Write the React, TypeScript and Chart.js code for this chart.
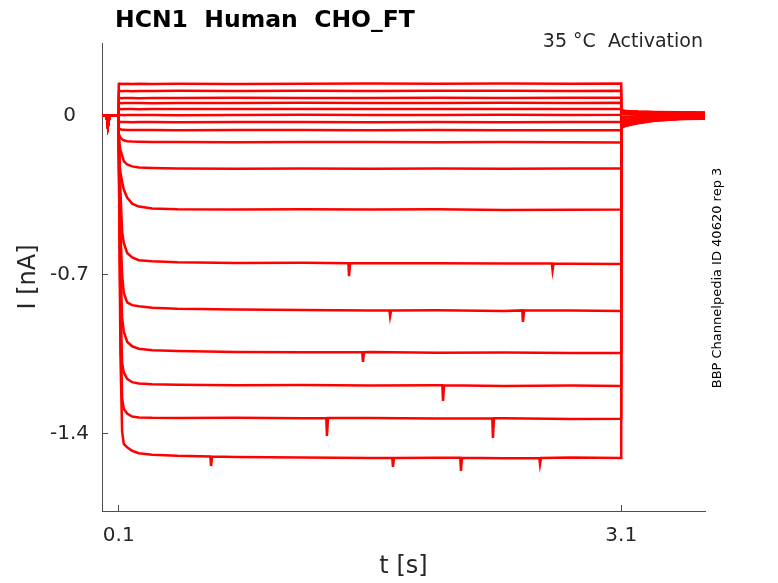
import { useEffect, useRef } from 'react';
import Chart from 'chart.js/auto';

const FONT = '"DejaVu Sans", sans-serif';
const TEXT = '#262626';
const AXIS = '#4d4d4d';

const chartTitle = 'HCN1  Human  CHO_FT';
const condition = '35 °C  Activation';
const sourceNote = 'BBP Channelpedia ID 40620 rep 3';

// holding period before the step (s, nA), same for every sweep
const preTimes = [0, 0.028, 0.035, 0.045, 0.1];
const preCurrent = [0, 0, -0.045, 0, 0];

// during the voltage step
const stepTimes = [0.1, 0.105, 0.11, 0.12, 0.13, 0.15, 0.18, 0.22, 0.3, 0.45, 0.8, 1.2, 1.6, 2.0, 2.4, 2.8, 3.1];
const stepCurrents = [
  [0.14, 0.141, 0.14, 0.141, 0.14, 0.141, 0.14, 0.141, 0.14, 0.141, 0.14, 0.141, 0.142, 0.141, 0.142, 0.141, 0.142],
  [0.108, 0.109, 0.109, 0.108, 0.109, 0.109, 0.108, 0.109, 0.109, 0.11, 0.109, 0.11, 0.109, 0.11, 0.11, 0.109, 0.11],
  [0.077, 0.078, 0.078, 0.077, 0.078, 0.078, 0.078, 0.077, 0.078, 0.078, 0.079, 0.078, 0.078, 0.079, 0.078, 0.079, 0.079],
  [0.055, 0.056, 0.056, 0.055, 0.056, 0.056, 0.056, 0.056, 0.055, 0.056, 0.056, 0.057, 0.056, 0.056, 0.057, 0.056, 0.057],
  [0.028, 0.029, 0.029, 0.028, 0.029, 0.029, 0.029, 0.028, 0.029, 0.029, 0.03, 0.029, 0.029, 0.03, 0.029, 0.03, 0.03],
  [0.002, 0.003, 0.003, 0.003, 0.002, 0.003, 0.003, 0.003, 0.003, 0.002, 0.003, 0.004, 0.003, 0.003, 0.004, 0.003, 0.004],
  [-0.026, -0.027, -0.028, -0.028, -0.028, -0.028, -0.029, -0.028, -0.028, -0.029, -0.028, -0.028, -0.029, -0.028, -0.029, -0.028, -0.028],
  [-0.055, -0.058, -0.06, -0.062, -0.062, -0.063, -0.063, -0.063, -0.063, -0.064, -0.063, -0.063, -0.064, -0.063, -0.064, -0.064, -0.064],
  [-0.08, -0.09, -0.097, -0.104, -0.108, -0.112, -0.114, -0.115, -0.116, -0.116, -0.117, -0.116, -0.116, -0.117, -0.116, -0.117, -0.118],
  [-0.08, -0.13, -0.15, -0.175, -0.2, -0.215, -0.223, -0.228, -0.23, -0.232, -0.233, -0.232, -0.233, -0.232, -0.233, -0.232, -0.232],
  [-0.1, -0.22, -0.25, -0.29, -0.325, -0.36, -0.387, -0.4, -0.408, -0.412, -0.413, -0.412, -0.413, -0.412, -0.415, -0.414, -0.413],
  [-0.08, -0.2, -0.33, -0.51, -0.56, -0.604, -0.624, -0.636, -0.641, -0.645, -0.648, -0.647, -0.65, -0.649, -0.651, -0.652, -0.653],
  [-0.1, -0.3, -0.5, -0.7, -0.78, -0.822, -0.834, -0.839, -0.845, -0.85, -0.853, -0.855, -0.858, -0.856, -0.86, -0.858, -0.86],
  [-0.1, -0.4, -0.65, -0.89, -0.95, -0.995, -1.015, -1.026, -1.032, -1.036, -1.04, -1.041, -1.04, -1.043, -1.042, -1.044, -1.045],
  [-0.12, -0.45, -0.8, -1.09, -1.13, -1.158, -1.173, -1.179, -1.182, -1.184, -1.186, -1.185, -1.188, -1.187, -1.19, -1.188, -1.19],
  [-0.12, -0.5, -0.9, -1.245, -1.29, -1.311, -1.324, -1.328, -1.33, -1.331, -1.33, -1.332, -1.331, -1.333, -1.332, -1.335, -1.334],
  [-0.15, -0.6, -1.05, -1.39, -1.445, -1.46, -1.475, -1.486, -1.492, -1.497, -1.502, -1.505, -1.507, -1.506, -1.508, -1.505, -1.507],
];

// back at the holding potential
const tailTimes = [3.1, 3.12, 3.15, 3.2, 3.3, 3.45, 3.6];
const tailCurrents = [
  [0.024, 0.022, 0.02, 0.018, 0.016, 0.015, 0.014],
  [0.023, 0.021, 0.019, 0.017, 0.015, 0.014, 0.013],
  [0.021, 0.02, 0.018, 0.016, 0.014, 0.013, 0.012],
  [0.018, 0.017, 0.016, 0.014, 0.012, 0.011, 0.01],
  [0.012, 0.011, 0.01, 0.009, 0.008, 0.008, 0.007],
  [0.01, 0.009, 0.008, 0.008, 0.007, 0.006, 0.006],
  [-0.005, -0.004, -0.003, -0.002, 0, 0.001, 0.002],
  [-0.01, -0.009, -0.007, -0.004, -0.002, 0, 0.001],
  [-0.022, -0.02, -0.017, -0.012, -0.007, -0.004, -0.003],
  [-0.025, -0.023, -0.019, -0.014, -0.008, -0.005, -0.004],
  [-0.035, -0.031, -0.026, -0.02, -0.012, -0.008, -0.006],
  [-0.038, -0.034, -0.028, -0.022, -0.014, -0.009, -0.007],
  [-0.04, -0.036, -0.03, -0.023, -0.015, -0.01, -0.008],
  [-0.046, -0.041, -0.035, -0.027, -0.018, -0.012, -0.01],
  [-0.048, -0.043, -0.037, -0.029, -0.019, -0.013, -0.011],
  [-0.05, -0.045, -0.039, -0.031, -0.021, -0.014, -0.012],
  [-0.053, -0.047, -0.041, -0.033, -0.022, -0.015, -0.013],
];

// short glitches visible on the lower sweeps (s, nA)
const glitches = [
  [], [], [], [], [], [], [], [], [], [], [],
  [[1.471, -0.649], [1.475, -0.706], [1.481, -0.65], [2.686, -0.651], [2.69, -0.68], [2.696, -0.651]],
  [[1.716, -0.857], [1.72, -0.882], [1.726, -0.857], [2.509, -0.857], [2.513, -0.908], [2.52, -0.857]],
  [[1.554, -1.041], [1.558, -1.084], [1.564, -1.041]],
  [[2.032, -1.187], [2.036, -1.256], [2.042, -1.187]],
  [[1.339, -1.331], [1.343, -1.41], [1.349, -1.331], [2.33, -1.332], [2.334, -1.418], [2.34, -1.332]],
  [[0.647, -1.5], [0.651, -1.542], [0.657, -1.5], [1.733, -1.507], [1.737, -1.546], [1.743, -1.507],
   [2.139, -1.506], [2.143, -1.564], [2.149, -1.506], [2.611, -1.507], [2.615, -1.533], [2.621, -1.507]],
];

const xTicks = [0.1, 3.1];
const xTickLabels = ['0.1', '3.1'];
const yTicks = [0, -0.7, -1.4];
const yTickLabels = ['0', '-0.7', '-1.4'];

function sweepData(i: number) {
  const pts = [
    ...preTimes.map((t, k) => ({ x: t, y: preCurrent[k] })),
    ...stepTimes.map((t, k) => ({ x: t, y: stepCurrents[i][k] })),
    ...tailTimes.map((t, k) => ({ x: t, y: tailCurrents[i][k] })),
    ...glitches[i].map(([t, v]) => ({ x: t, y: v })),
  ];
  return pts.sort((a, b) => a.x - b.x);
}

const textPlugin = {
  id: 'figureText',
  afterDraw(chart: Chart) {
    const { ctx } = chart;
    ctx.save();
    ctx.fillStyle = '#000';
    ctx.font = `bold 23.5px ${FONT}`;
    ctx.textAlign = 'left';
    ctx.textBaseline = 'alphabetic';
    ctx.fillText(chartTitle, 115, 27);

    ctx.fillStyle = TEXT;
    ctx.font = `19px ${FONT}`;
    ctx.textAlign = 'right';
    ctx.fillText(condition, 703, 47);

    ctx.translate(721, 278);
    ctx.rotate(-Math.PI / 2);
    ctx.textAlign = 'center';
    ctx.font = `13px ${FONT}`;
    ctx.fillStyle = '#000';
    ctx.fillText(sourceNote, 0, 0);
    ctx.restore();
  },
};

export default function App() {
  const chartRef = useRef<HTMLCanvasElement>(null);
  const chartInstance = useRef<Chart | null>(null);

  useEffect(() => {
    if (!chartRef.current) return;
    if (chartInstance.current) chartInstance.current.destroy();

    chartInstance.current = new Chart(chartRef.current, {
      type: 'line',
      data: {
        datasets: stepCurrents.map((_, i) => ({
          data: sweepData(i),
          borderColor: '#ff0000',
          borderWidth: 2.5,
          pointRadius: 0,
          tension: 0,
        })),
      },
      options: {
        responsive: true,
        maintainAspectRatio: false,
        animation: false,
        events: [],
        layout: { padding: { left: 0, right: 73, top: 43, bottom: 0 } },
        plugins: {
          legend: { display: false },
          tooltip: { enabled: false },
        },
        scales: {
          x: {
            type: 'linear',
            min: 0,
            max: 3.6,
            afterBuildTicks: (s: any) => {
              s.ticks = xTicks.map((v) => ({ value: v }));
            },
            afterFit: (s: any) => {
              s.height = 72;
            },
            ticks: {
              autoSkip: false,
              maxRotation: 0,
              padding: 19,
              color: TEXT,
              font: { family: FONT, size: 20 },
              callback: (v: any) => xTickLabels[xTicks.indexOf(v)] ?? '',
            },
            grid: { drawOnChartArea: false, tickLength: -6, color: AXIS },
            border: { display: true, color: AXIS, width: 1 },
            title: {
              display: true,
              text: 't [s]',
              color: TEXT,
              font: { family: FONT, size: 24 },
              padding: { top: 0, bottom: 2 },
            },
          },
          y: {
            type: 'linear',
            min: -1.74,
            max: 0.32,
            afterBuildTicks: (s: any) => {
              s.ticks = yTicks.map((v) => ({ value: v }));
            },
            afterFit: (s: any) => {
              s.width = 102;
            },
            ticks: {
              crossAlign: 'center',
              padding: 19,
              color: TEXT,
              font: { family: FONT, size: 20 },
              callback: (v: any) => yTickLabels[yTicks.indexOf(v)] ?? '',
            },
            grid: { drawOnChartArea: false, tickLength: -6, color: AXIS },
            border: { display: true, color: AXIS, width: 1 },
            title: {
              display: true,
              text: 'I [nA]',
              color: TEXT,
              font: { family: FONT, size: 24 },
              padding: { top: 14, bottom: 0 },
            },
          },
        },
      },
      plugins: [textPlugin],
    });

    return () => {
      if (chartInstance.current) {
        chartInstance.current.destroy();
        chartInstance.current = null;
      }
    };
  }, []);

  return (
    <div style={{ position: 'fixed', left: 0, top: 0, width: 778, height: 583, background: '#fff' }}>
      <canvas ref={chartRef} />
    </div>
  );
}
